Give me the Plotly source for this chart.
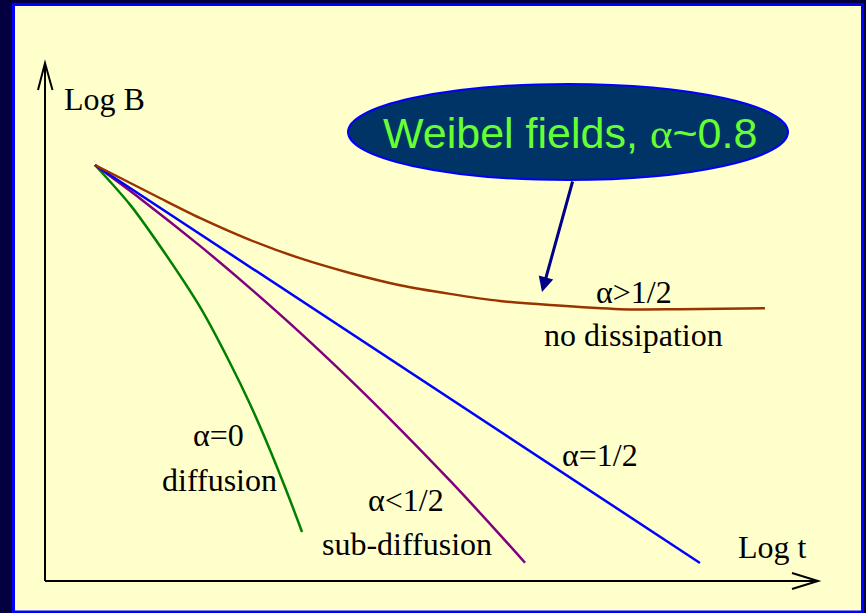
import plotly.graph_objects as go

# ---- data (log t, log B) in arbitrary log units ----
green_t = [0.649, 1.104, 1.558, 2.013, 2.403, 2.662, 2.922, 3.182, 3.338]
green_B = [8.157, 7.380, 6.425, 5.373, 4.275, 3.471, 2.569, 1.588, 0.961]

purple_t = [0.649, 1.234, 2.013, 2.662, 3.312, 3.961, 4.610, 5.260, 5.909, 6.234]
purple_B = [8.157, 7.502, 6.571, 5.743, 4.871, 3.949, 2.980, 1.967, 0.906, 0.357]

blue_t = [0.649, 8.506]
blue_B = [8.157, 0.353]

brown_t = [0.649, 1.49, 2.01, 2.66, 3.31, 3.96, 4.61, 5.26, 5.91, 6.56, 7.47, 8.25, 9.35]
brown_B = [8.157, 7.51, 7.12, 6.69, 6.33, 6.04, 5.80, 5.63, 5.49, 5.41, 5.33, 5.33, 5.35]

# label texts
labels = ["α=0", "diffusion", "α&lt;1/2", "sub-diffusion", "α=1/2", "α&gt;1/2", "no dissipation"]
label_t = [2.247, 2.260, 4.688, 4.701, 7.208, 7.649, 7.649]
label_B = [2.863, 1.980, 1.588, 0.725, 2.471, 5.667, 4.824]

# ---- canvas geometry ----
W, H = 866, 613
X0, Y0, SX, SY = 45, 581, 77, 51  # pixel origin and scale of data axes


def px(x):
    return x / W


def py(y):
    return 1 - y / H


SERIF = "Liberation Serif, Times New Roman, serif"
SANS = "Liberation Sans, Arial, sans-serif"

fig = go.Figure()
for t, b, c in [(green_t, green_B, "#008000"), (purple_t, purple_B, "#800080"),
                (blue_t, blue_B, "#0000FF"), (brown_t, brown_B, "#993300")]:
    fig.add_trace(go.Scatter(x=t, y=b, mode="lines",
                             line=dict(color=c, width=2.5, shape="spline", smoothing=0.8),
                             hoverinfo="skip", showlegend=False))

shapes = [
    # yellow panel with blue border
    dict(type="rect", xref="paper", yref="paper", x0=px(13.5), x1=px(862.5), y0=py(4.5), y1=py(612),
         fillcolor="#FFFFCC", line=dict(color="#0000FF", width=3), layer="below"),
    # axes
    dict(type="line", xref="paper", yref="paper", x0=px(45), x1=px(45), y0=py(581), y1=py(64),
         line=dict(color="black", width=2)),
    dict(type="line", xref="paper", yref="paper", x0=px(45), x1=px(817), y0=py(581), y1=py(581),
         line=dict(color="black", width=2)),
    dict(type="path", xref="paper", yref="paper",
         path=f"M {px(38)} {py(90)} L {px(45)} {py(63)} L {px(52.5)} {py(90)}",
         line=dict(color="black", width=2)),
    dict(type="path", xref="paper", yref="paper",
         path=f"M {px(792)} {py(573)} L {px(818)} {py(581)} L {px(792)} {py(589)}",
         line=dict(color="black", width=2)),
    # callout ellipse
    dict(type="circle", xref="paper", yref="paper", x0=px(348), x1=px(788), y0=py(84), y1=py(180),
         fillcolor="#003366", line=dict(color="#0000FF", width=2)),
]

annotations = [
    dict(xref="paper", yref="paper", x=px(104), y=py(99), text="Log B", showarrow=False,
         xanchor="center", yanchor="middle", font=dict(family=SERIF, size=32, color="black")),
    dict(xref="paper", yref="paper", x=px(772), y=py(547), text="Log t", showarrow=False,
         xanchor="center", yanchor="middle", font=dict(family=SERIF, size=32, color="black")),
    dict(xref="paper", yref="paper", x=px(570), y=py(133),
         text="Weibel fields, <span style=\"font-family:Liberation Serif\">α</span>~0.8",
         showarrow=False, xanchor="center", yanchor="middle",
         font=dict(family=SANS, size=43, color="#66FF33")),
    dict(xref="paper", yref="paper", x=px(542), y=py(292), ax=31, ay=-112, text="",
         showarrow=True, arrowhead=2, arrowsize=1, arrowwidth=3, arrowcolor="#000088"),
]
for txt, t, b in zip(labels, label_t, label_B):
    annotations.append(dict(x=t, y=b, xref="x", yref="y", text=txt, showarrow=False,
                            xanchor="center", yanchor="middle",
                            font=dict(family=SERIF, size=32, color="black")))

fig.update_layout(
    width=W, height=H,
    margin=dict(l=0, r=0, t=0, b=0),
    paper_bgcolor="#02003F", plot_bgcolor="rgba(0,0,0,0)",
    xaxis=dict(range=[(0 - X0) / SX, (W - X0) / SX], visible=False, fixedrange=True),
    yaxis=dict(range=[(Y0 - H) / SY, Y0 / SY], visible=False, fixedrange=True),
    shapes=shapes, annotations=annotations, showlegend=False,
)

fig.write_html("out.html", config={"displayModeBar": False},
               post_script="document.body.style.margin='0px';document.body.style.padding='0px';")
